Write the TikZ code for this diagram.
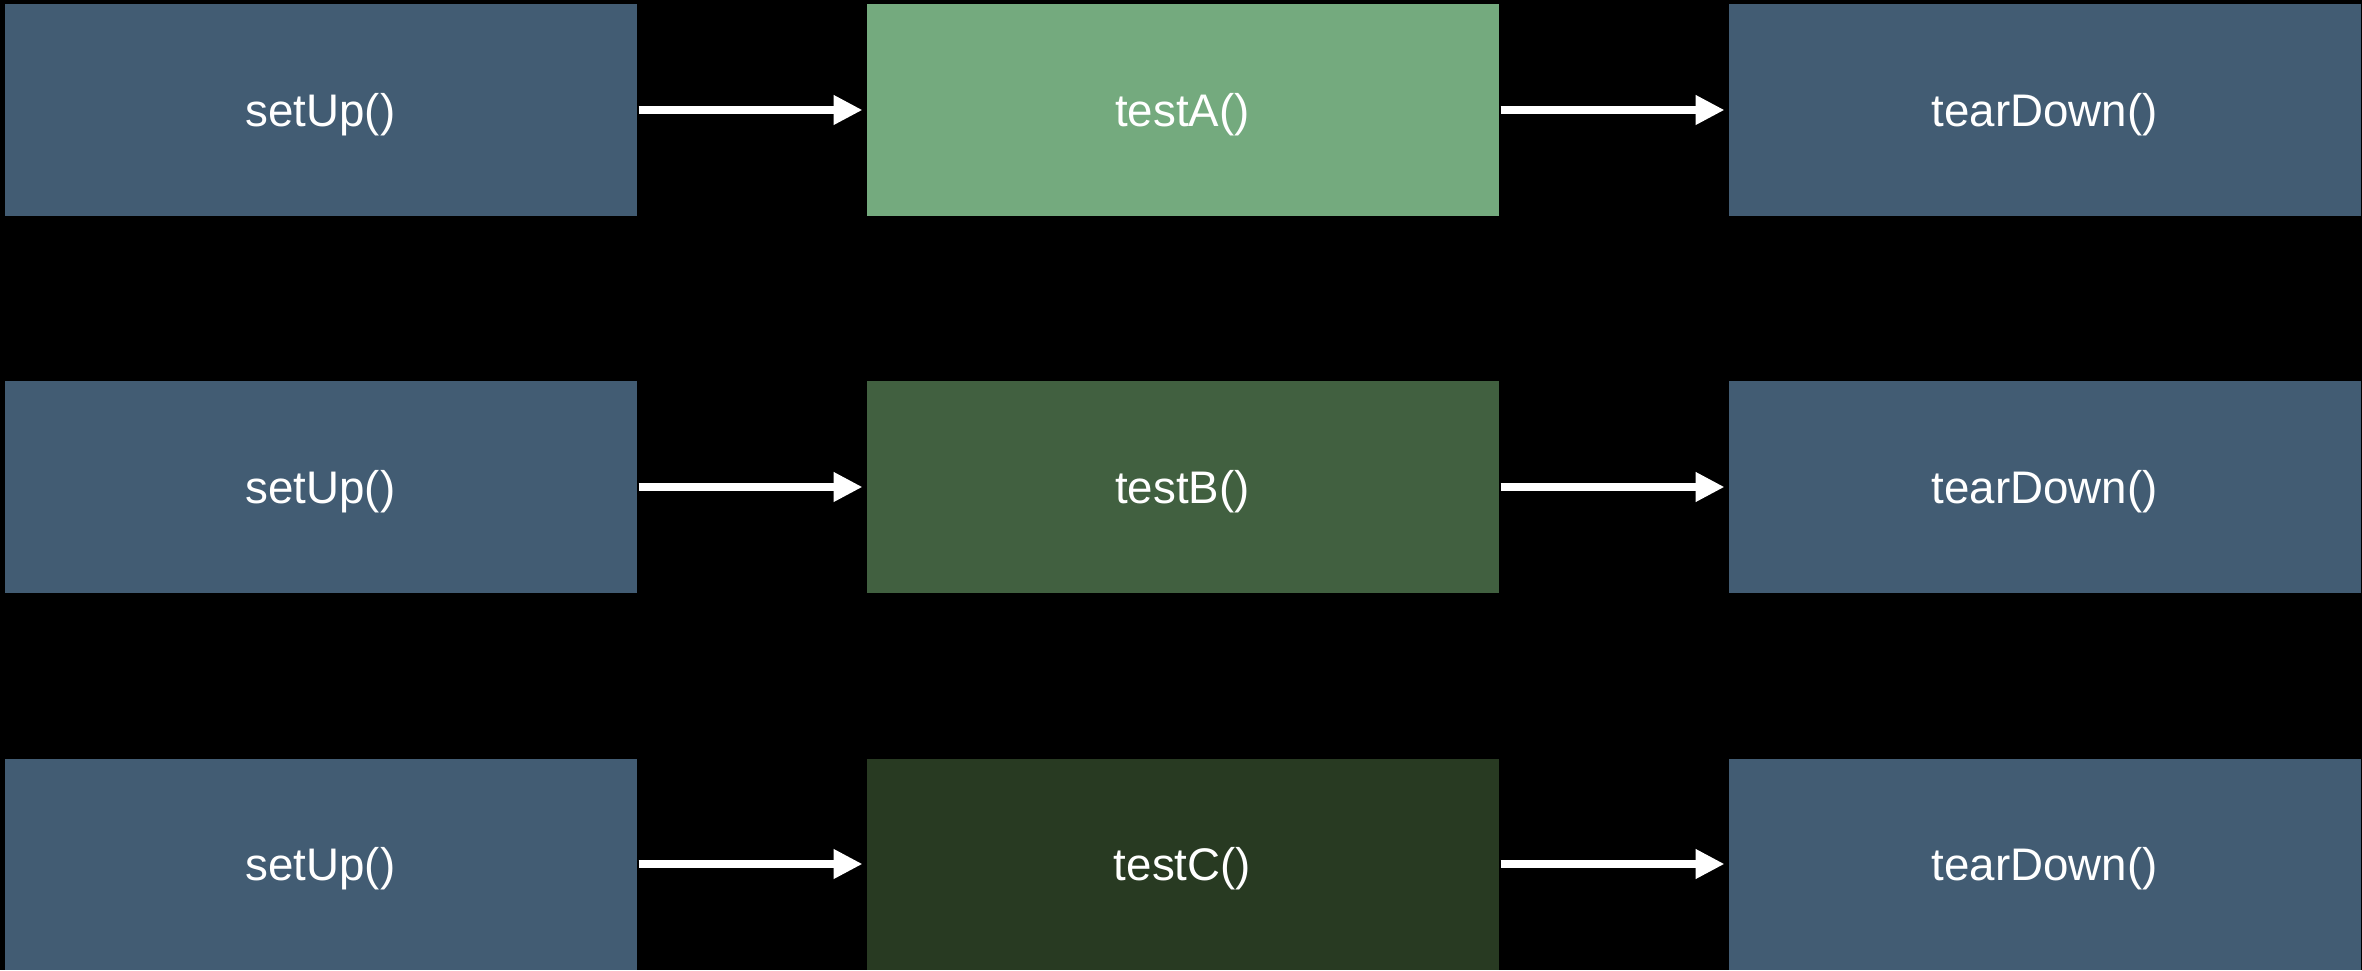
\documentclass[tikz,border=0pt]{standalone}
\usepackage{fontspec}
\setmainfont{Liberation Sans}
\usetikzlibrary{arrows.meta}
\usetikzlibrary{positioning}
\usetikzlibrary{chains}
\definecolor{hookblue}{HTML}{425C73}
\definecolor{greenA}{HTML}{74AA7E}
\definecolor{greenB}{HTML}{416040}
\definecolor{greenC}{HTML}{283A22}
\newcommand{\tnode}[3]{\node(#1)[item,#2]{#3}}

\begin{document}
\begin{tikzpicture}[
        start chain,
        every node/.style={font=\fontsize{13}{15}\selectfont,text=white},
        item/.style={rectangle,minimum height=2.11cm,minimum width=6.32cm,
                     inner sep=0pt,outer sep=0pt,text depth=0pt},
        hook/.style={fill=hookblue},
        flow/.style={-{Triangle[length=0.29cm,width=0.28cm]},white,
                     line width=0.077cm,shorten >=0.04cm,shorten <=0.02cm}
      ]
      \fill[black] (0,0) rectangle (23.62,9.70);
      \useasboundingbox (0,0) rectangle (23.62,9.70);
      \matrix[row sep=1.66cm, column sep=2.3cm, inner sep=0pt, outer sep=0pt,
              anchor=north west] at (0.045,9.655) {
        \tnode{up1}{hook}{setUp()}; & \tnode{tA}{fill=greenA}{testA()}; & \tnode{down1}{hook}{tearDown()}; \\
        \tnode{up2}{hook}{setUp()}; & \tnode{tB}{fill=greenB}{testB()}; & \tnode{down2}{hook}{tearDown()}; \\
        \tnode{up3}{hook}{setUp()}; & \tnode{tC}{fill=greenC}{testC()}; & \tnode{down3}{hook}{tearDown()}; \\
      };
      {
        [start chain] \chainin(up1); \chainin(tA) [join=by {flow}]; \chainin(down1) [join=by {flow}];
        [start chain] \chainin(up2); \chainin(tB) [join=by {flow}]; \chainin(down2) [join=by {flow}];
        [start chain] \chainin(up3); \chainin(tC) [join=by {flow}]; \chainin(down3) [join=by {flow}];
      }

    \end{tikzpicture}
\end{document}
